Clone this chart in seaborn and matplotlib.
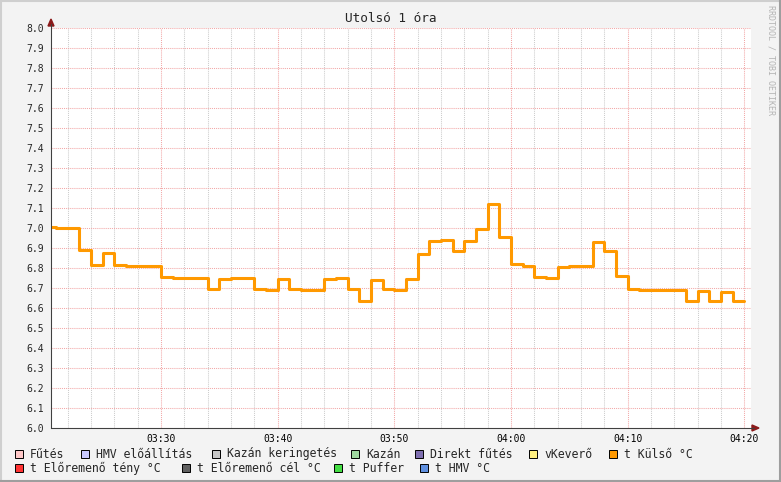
import numpy as np
import pandas as pd
import matplotlib
matplotlib.use("Agg")
import matplotlib.pyplot as plt
import seaborn as sns
from matplotlib.ticker import MultipleLocator, FixedLocator
from matplotlib.patches import Rectangle, Polygon
from matplotlib.lines import Line2D

# t Külső °C, one value per minute starting at 03:20
start_minute = 3 * 60 + 20
kulso = [7.005, 7.00, 7.00, 6.89, 6.815, 6.875, 6.815, 6.81, 6.81, 6.81,
         6.755, 6.75, 6.75, 6.75, 6.695, 6.745, 6.75, 6.75, 6.695, 6.69,
         6.745, 6.695, 6.69, 6.69, 6.745, 6.75, 6.695, 6.635, 6.74, 6.695,
         6.69, 6.745, 6.87, 6.935, 6.94, 6.885, 6.935, 6.995, 7.12, 6.955,
         6.82, 6.81, 6.755, 6.75, 6.805, 6.81, 6.81, 6.93, 6.885, 6.76,
         6.695, 6.69, 6.69, 6.69, 6.69, 6.635, 6.685, 6.635, 6.68, 6.635]

x_labels = ["03:30", "03:40", "03:50", "04:00", "04:10", "04:20"]

legend_row1 = ["Fűtés", "HMV előállítás", "Kazán keringetés", "Kazán",
               "Direkt fűtés", "vKeverő", "t Külső °C"]
legend_row1_colors = ["#ffc8c8", "#c8c8ff", "#c8c8c8", "#a0d8a0",
                      "#7f6fb0", "#fff080", "#ff9900"]
legend_row1_x = [15, 81, 212, 351, 415, 529, 609]
legend_row2 = ["t Előremenő tény °C", "t Előremenő cél °C", "t Puffer", "t HMV °C"]
legend_row2_colors = ["#ff3333", "#606060", "#44dd44", "#6090e0"]
legend_row2_x = [15, 182, 334, 420]

W, H = 781, 482

# minutes since midnight; last value is held until the end of its minute
minutes = start_minute + np.arange(len(kulso) + 1)
df = pd.DataFrame({"perc": minutes, "t": kulso + [kulso[-1]]})

sns.set_theme(style="white")
plt.rcParams["font.family"] = ["DejaVu Sans Mono", "DejaVu Sans"]

fig = plt.figure(figsize=(W / 100, H / 100), dpi=100, facecolor="#f3f3f3")
ax = fig.add_axes([51 / W, (H - 428) / H, 700 / W, 400 / H])
ax.set_facecolor("white")

sns.lineplot(data=df, x="perc", y="t", drawstyle="steps-post",
             color="#ff9900", linewidth=2.2, ax=ax, zorder=5)

ax.set_xlim(start_minute + 0.57, start_minute + 60.57)
ax.set_ylim(6.0, 8.0)

xt = [int(s[:2]) * 60 + int(s[3:]) for s in x_labels]
ax.xaxis.set_major_locator(FixedLocator(xt))
ax.set_xticklabels(x_labels)
ax.xaxis.set_minor_locator(MultipleLocator(2))
yt = np.round(np.arange(6.0, 8.01, 0.1), 1)
ax.set_yticks(yt)
ax.set_yticklabels([f"{v:.1f}" for v in yt])

ax.grid(which="major", axis="both", color="#f2a8a8", linestyle=(0, (1, 1)), linewidth=0.75)
ax.grid(which="minor", axis="x", color="#cccccc", linestyle=(0, (1, 1)), linewidth=0.75)

ax.tick_params(axis="x", which="both", length=0, pad=4, labelsize=7, colors="#000000")
ax.tick_params(axis="y", which="major", length=3, width=0.75, color="#404040",
               pad=2, labelsize=7)
ax.set_xlabel("")
ax.set_ylabel("")

for s in ["top", "right"]:
    ax.spines[s].set_visible(False)
for s in ["left", "bottom"]:
    ax.spines[s].set_color("#404040")
    ax.spines[s].set_linewidth(0.75)


def fx(px):
    return px / W


def fy(py):
    return 1 - py / H


# axis arrows
fig.add_artist(Line2D([fx(51), fx(51)], [fy(428), fy(24)], color="#404040", lw=0.75))
fig.add_artist(Line2D([fx(51), fx(754)], [fy(428), fy(428)], color="#404040", lw=0.75))
fig.add_artist(Polygon([(fx(51), fy(19)), (fx(48), fy(26)), (fx(54), fy(26))],
                       closed=True, color="#8b1a1a", transform=fig.transFigure))
fig.add_artist(Polygon([(fx(759), fy(428)), (fx(752), fy(425)), (fx(752), fy(431))],
                       closed=True, color="#8b1a1a", transform=fig.transFigure))

# title
fig.text(fx(391), fy(19), "Utolsó 1 óra", ha="center", va="center", fontsize=9.2)

# watermark
fig.text(fx(771), fy(5), "RRDTOOL / TOBI OETIKER", rotation=270, ha="center",
         va="top", fontsize=6, color="#b4b4b4")

# legend
for names, colors, xs, yrow in [(legend_row1, legend_row1_colors, legend_row1_x, 454),
                                (legend_row2, legend_row2_colors, legend_row2_x, 468)]:
    for name, col, x0 in zip(names, colors, xs):
        fig.add_artist(Rectangle((fx(x0), fy(yrow + 4)), 8 / W, 8 / H,
                                 facecolor=col, edgecolor="#000000", lw=0.7,
                                 transform=fig.transFigure))
        fig.text(fx(x0 + 15), fy(yrow), name, ha="left", va="center", fontsize=8.3)

# 3D frame
fig.add_artist(Line2D([0, 1], [fy(1), fy(1)], color="#cfcfcf", lw=1.5))
fig.add_artist(Line2D([fx(1), fx(1)], [0, 1], color="#cfcfcf", lw=1.5))
fig.add_artist(Line2D([0, 1], [fy(481), fy(481)], color="#9e9e9e", lw=1.5))
fig.add_artist(Line2D([fx(780), fx(780)], [0, 1], color="#9e9e9e", lw=1.5))

fig.savefig("out.png", dpi=100, facecolor=fig.get_facecolor())
